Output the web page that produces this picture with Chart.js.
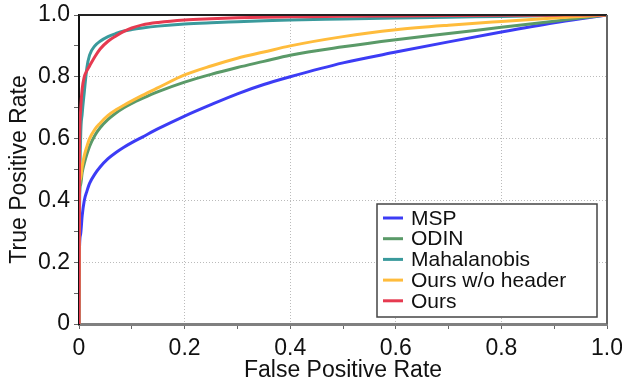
<!DOCTYPE html>
<html>
<head>
<meta charset="utf-8">
<script src="https://cdn.jsdelivr.net/npm/chart.js@4.4.1/dist/chart.umd.min.js"></script>
<style>
  body { margin: 0; background: #fff; }
  #wrap { width: 622px; height: 379px; position: relative; }
</style>
</head>
<body>
<div id="wrap"><canvas id="roc"></canvas></div>
<script>
// shared false positive rate grid
const fpr = [0, 0.001, 0.003, 0.006, 0.01, 0.015, 0.02, 0.03, 0.04, 0.055, 0.07, 0.085, 0.1, 0.12, 0.15,
  0.2, 0.25, 0.3, 0.35, 0.4, 0.5, 0.6, 0.7, 0.8, 0.9, 0.95, 1.0];

const mspTpr = [0, 0.25, 0.29, 0.35, 0.40, 0.43, 0.455, 0.485, 0.508, 0.535, 0.555, 0.572, 0.587, 0.605, 0.632,
  0.673, 0.71, 0.745, 0.775, 0.80, 0.845, 0.88, 0.913, 0.945, 0.975, 0.988, 1.0];
const odinTpr = [0, 0.42, 0.45, 0.49, 0.52, 0.55, 0.575, 0.61, 0.635, 0.662, 0.683, 0.70, 0.714, 0.73, 0.752,
  0.783, 0.808, 0.83, 0.85, 0.87, 0.897, 0.92, 0.94, 0.96, 0.98, 0.99, 1.0];
const mahaTpr = [0, 0.35, 0.60, 0.68, 0.75, 0.83, 0.87, 0.90, 0.915, 0.93, 0.94, 0.948, 0.953, 0.958, 0.964,
  0.971, 0.975, 0.978, 0.981, 0.984, 0.987, 0.99, 0.993, 0.995, 0.998, 0.999, 1.0];
const noHeaderTpr = [0, 0.44, 0.47, 0.51, 0.545, 0.575, 0.60, 0.63, 0.65, 0.675, 0.693, 0.708, 0.722, 0.74, 0.765,
  0.806, 0.835, 0.86, 0.88, 0.90, 0.93, 0.952, 0.967, 0.979, 0.99, 0.995, 1.0];
const oursTpr = [0, 0.55, 0.69, 0.76, 0.80, 0.82, 0.835, 0.865, 0.89, 0.915, 0.932, 0.947, 0.958, 0.968, 0.976,
  0.984, 0.988, 0.991, 0.993, 0.994, 0.996, 0.997, 0.998, 0.999, 0.9995, 1.0, 1.0];

const seriesNames = ['MSP', 'ODIN', 'Mahalanobis', 'Ours w/o header', 'Ours'];
const seriesColors = ['#3c3cf5', '#5a9a68', '#3a9a9c', '#ffbc3c', '#e63a50'];
const seriesTpr = [mspTpr, odinTpr, mahaTpr, noHeaderTpr, oursTpr];

const FONT = "'Liberation Sans', Arial, sans-serif";

const datasets = seriesNames.map((name, i) => ({
  label: name,
  data: fpr.map((x, j) => ({ x: x, y: seriesTpr[i][j] })),
  borderColor: seriesColors[i],
  borderWidth: 3,
  pointRadius: 0,
  fill: false,
  cubicInterpolationMode: 'monotone',
  order: seriesNames.length - 1 - i
}));

function isMajor(v) {
  return Math.round(v * 10) % 2 === 0;
}

function tickLabel(v) {
  const r = Math.round(v * 10) / 10;
  if (!isMajor(r)) return '';
  if (r === 0) return '0';
  return r.toFixed(1);
}

function gridColor(c) {
  const v = c.tick ? c.tick.value : 0;
  return (isMajor(v) && v > 0.01 && v < 0.99) ? '#bbb' : 'rgba(0,0,0,0)';
}

// frame on top/right + legend inside the plot
const framePlugin = {
  id: 'frame',
  afterDraw(chart) {
    const { ctx, chartArea: a } = chart;
    ctx.save();
    ctx.lineWidth = 2;
    ctx.strokeStyle = '#222';
    ctx.beginPath();
    ctx.moveTo(a.left, a.top);
    ctx.lineTo(a.right, a.top);
    ctx.stroke();
    ctx.strokeStyle = '#666';
    ctx.beginPath();
    ctx.moveTo(a.right, a.top);
    ctx.lineTo(a.right, a.bottom);
    ctx.stroke();

    // legend box
    const boxR = a.right - 10, boxB = a.bottom - 7;
    const boxL = boxR - 220, boxT = boxB - 113;
    ctx.fillStyle = '#fff';
    ctx.fillRect(boxL, boxT, boxR - boxL, boxB - boxT);
    ctx.lineWidth = 1.5;
    ctx.strokeStyle = '#444';
    ctx.strokeRect(boxL, boxT, boxR - boxL, boxB - boxT);
    ctx.font = '21px ' + FONT;
    ctx.textBaseline = 'middle';
    chart.data.datasets.forEach((ds, i) => {
      const y = boxT + 14 + i * 20.7;
      ctx.strokeStyle = ds.borderColor;
      ctx.lineWidth = 3;
      ctx.beginPath();
      ctx.moveTo(boxL + 6, y);
      ctx.lineTo(boxL + 26, y);
      ctx.stroke();
      ctx.fillStyle = '#111';
      ctx.fillText(ds.label, boxL + 34, y + 1);
    });
    ctx.restore();
  }
};

new Chart(document.getElementById('roc'), {
  type: 'line',
  data: { datasets: datasets },
  options: {
    responsive: true,
    maintainAspectRatio: false,
    animation: false,
    layout: { padding: { top: 15, right: 15, left: 0, bottom: 0 } },
    plugins: {
      legend: { display: false },
      tooltip: { enabled: false }
    },
    scales: {
      x: {
        type: 'linear',
        min: 0,
        max: 1,
        ticks: {
          stepSize: 0.1,
          autoSkip: false,
          maxRotation: 0,
          padding: 6,
          color: '#111',
          font: { family: FONT, size: 23 },
          callback: v => tickLabel(v)
        },
        grid: {
          color: gridColor,
          lineWidth: 1,
          tickColor: '#666',
          tickLength: 5
        },
        border: { color: '#808080', width: 3, dash: [1, 2] },
        title: {
          display: true,
          text: 'False Positive Rate',
          color: '#111',
          font: { family: FONT, size: 23 },
          padding: { top: 0, bottom: -5 }
        },
        afterFit(scale) {
          scale.paddingRight = 0;
          scale.height = 55;
        }
      },
      y: {
        type: 'linear',
        min: 0,
        max: 1,
        ticks: {
          stepSize: 0.1,
          autoSkip: false,
          padding: 4,
          color: '#111',
          font: { family: FONT, size: 23 },
          callback: v => tickLabel(v)
        },
        grid: {
          color: gridColor,
          lineWidth: 1,
          tickColor: '#666',
          tickLength: 5
        },
        border: { color: '#111', width: 2, dash: [1, 2] },
        title: {
          display: true,
          text: 'True Positive Rate',
          color: '#111',
          font: { family: FONT, size: 23 },
          padding: { top: 6, bottom: 0 }
        },
        afterFit(scale) {
          scale.paddingTop = 0;
          scale.width = 79;
        }
      }
    }
  },
  plugins: [framePlugin]
});
</script>
</body>
</html>
